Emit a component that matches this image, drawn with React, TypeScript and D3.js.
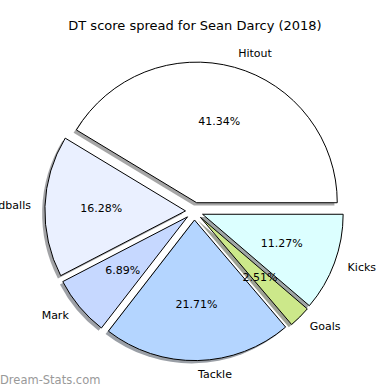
import React from "react";
import * as d3 from "d3";

const title = "DT score spread for Sean Darcy (2018)";
const categories = ["Hitout", "Handballs", "Mark", "Tackle", "Goals", "Kicks"];
const values = [41.34, 16.28, 6.89, 21.71, 2.51, 11.27];
const colors = ["#ffffff", "#eaf0ff", "#c6d8ff", "#b4d5ff", "#cce88a", "#dcffff"];
const watermark = "Dream-Stats.com";

const W = 390;
const H = 390;
const CX = 194.3;
const CY = 211.2;
const R = 140.6;
const EXPLODE = 8.8;
const SHADOW = 2.8;
const FONT = "DejaVu Sans, sans-serif";

function shadowColor(c: string) {
  const rgb = d3.rgb(c);
  return d3.rgb(rgb.r * 0.3, rgb.g * 0.3, rgb.b * 0.3).formatHex();
}

export default function App() {
  const pie = d3
    .pie<number>()
    .sort(null)
    .startAngle(Math.PI / 2)
    .endAngle(Math.PI / 2 - 2 * Math.PI);
  const arcs = pie(values);
  const arcGen = d3.arc<d3.PieArcDatum<number>>().innerRadius(0).outerRadius(R);

  const items = arcs.map((a, i) => {
    const mid = (a.startAngle + a.endAngle) / 2;
    const dx = Math.sin(mid);
    const dy = -Math.cos(mid);
    const ox = CX + EXPLODE * dx;
    const oy = CY + EXPLODE * dy;
    return { a, i, mid, dx, dy, ox, oy };
  });

  return (
    <svg
      width={W}
      height={H}
      style={{ position: "absolute", left: 0, top: 0, background: "#fff" }}
      fontFamily={FONT}
    >
      <rect x={0} y={0} width={W} height={H} fill="#fff" />
      <text x={195} y={25} textAnchor="middle" dominantBaseline="central" fontSize={13} fill="#000">
        {title}
      </text>
      {items.map(({ a, i, ox, oy }) => (
        <path
          key={"s" + i}
          d={arcGen(a) || ""}
          transform={`translate(${ox - SHADOW},${oy + SHADOW})`}
          fill={shadowColor(colors[i])}
          fillOpacity={0.5}
        />
      ))}
      {items.map(({ a, i, ox, oy }) => (
        <path
          key={"w" + i}
          d={arcGen(a) || ""}
          transform={`translate(${ox},${oy})`}
          fill={colors[i]}
          stroke="#000"
          strokeWidth={1}
          strokeLinejoin="round"
        />
      ))}
      {items.map(({ i, dx, dy, ox, oy }) => (
        <text
          key={"l" + i}
          x={ox + 1.1 * R * dx}
          y={oy + 1.1 * R * dy}
          textAnchor={dx > 0 ? "start" : "end"}
          dominantBaseline="central"
          fontSize={11}
          fill="#000"
        >
          {categories[i]}
        </text>
      ))}
      {items.map(({ i, dx, dy, ox, oy }) => (
        <text
          key={"p" + i}
          x={ox + 0.6 * R * dx}
          y={oy + 0.6 * R * dy}
          textAnchor="middle"
          dominantBaseline="central"
          fontSize={11}
          fill="#000"
        >
          {values[i].toFixed(2) + "%"}
        </text>
      ))}
      <text x={0} y={380} dominantBaseline="central" fontSize={11.5} fill="#999">
        {watermark}
      </text>
    </svg>
  );
}
